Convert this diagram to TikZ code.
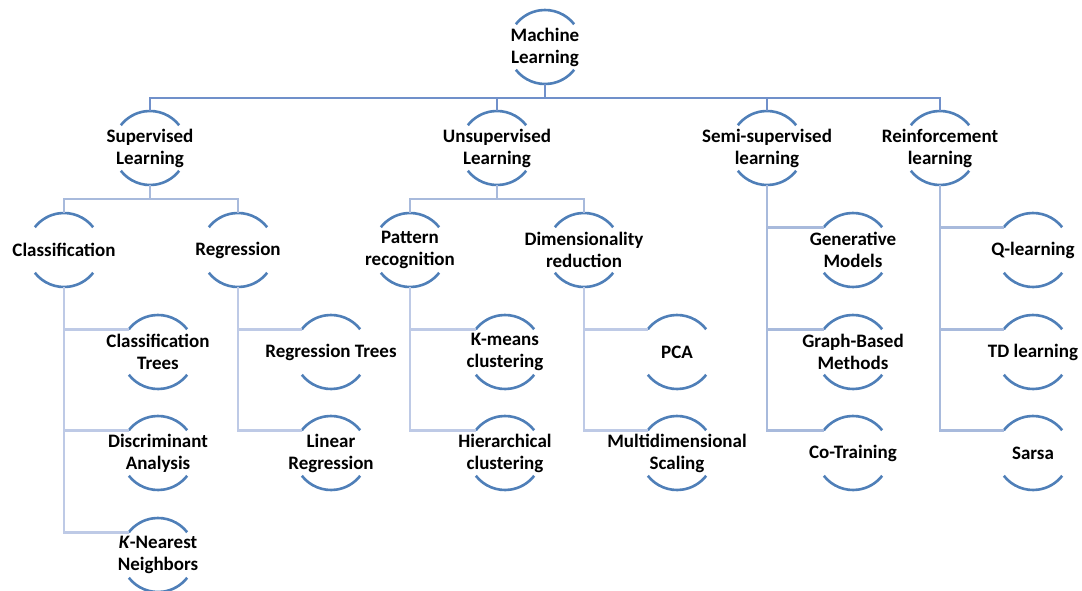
\documentclass[tikz,border=0pt]{standalone}
\usepackage{fontspec}
\setmainfont{Carlito}
\usetikzlibrary{calc}
\definecolor{arcc}{RGB}{79,127,184}
\definecolor{conA}{RGB}{112,144,202}
\definecolor{conB}{RGB}{168,186,220}
\definecolor{conC}{RGB}{190,202,230}
\tikzset{
  ring/.style={circle, minimum size=74pt, inner sep=0pt, outer sep=0pt},
  lbl/.style={align=center, font=\fontsize{19}{22}\selectfont\bfseries, text=black, inner sep=0pt},
  arcline/.style={draw=arcc, line width=2.6pt},
  cA/.style={draw=conA, line width=2.6pt},
  cB/.style={draw=conB, line width=2.6pt},
  cC/.style={draw=conC, line width=2.6pt},
}
\newcommand\mlnode[3]{%
  \node[ring] (#1) at (#2) {};
  \node[lbl] (#1-t) at (#1.center) {#3};
  \draw[arcline] (#1.38) arc[start angle=38, end angle=142, radius=37pt];
  \draw[arcline] (#1.218) arc[start angle=218, end angle=322, radius=37pt];
}
\begin{document}
\begin{tikzpicture}[x=1pt,y=1pt]
\useasboundingbox (0,0) rectangle (1082,-591);
% coordinates for bars
\coordinate (bar1) at (0,-98);
\coordinate (bar2) at (0,-199);
% nodes
\mlnode{ml}{545,-47}{Machine\\Learning}
\mlnode{sup}{150,-148}{Supervised\\Learning}
\mlnode{uns}{497,-148}{Unsupervised\\Learning}
\mlnode{semi}{767,-148}{Semi-supervised\\learning}
\mlnode{rl}{940,-148}{Reinforcement\\learning}
\mlnode{cls}{64,-250}{Classification}
\mlnode{reg}{238,-250}{Regression}
\mlnode{pat}{410,-250}{Pattern\\recognition}
\mlnode{dim}{584,-250}{Dimensionality\\reduction}
\mlnode{ctree}{158,-352}{Classification\\Trees}
\mlnode{disc}{158,-453}{Discriminant\\Analysis}
\mlnode{knn}{158,-555}{\textit{K}-Nearest\\Neighbors}
\mlnode{rtree}{331,-352}{Regression Trees}
\mlnode{lin}{331,-453}{Linear\\Regression}
\mlnode{km}{505,-352}{K-means\\clustering}
\mlnode{hier}{505,-453}{Hierarchical\\clustering}
\mlnode{pca}{677,-352}{PCA}
\mlnode{mds}{677,-453}{Multidimensional\\Scaling}
\mlnode{gen}{853,-250}{Generative\\Models}
\mlnode{graph}{853,-352}{Graph-Based\\Methods}
\mlnode{cot}{853,-453}{Co-Training}
\mlnode{q}{1033,-250}{Q-learning}
\mlnode{td}{1033,-352}{TD learning}
\mlnode{sarsa}{1033,-453}{Sarsa}
% level 1 connectors
\draw[cA] (ml.south) -- (ml.south |- bar1);
\draw[cA] (sup.north) -- (sup.north |- bar1) -- (rl.north |- bar1) -- (rl.north);
\draw[cA] (uns.north) -- (uns.north |- bar1);
\draw[cA] (semi.north) -- (semi.north |- bar1);
% level 2 connectors
\draw[cB] (sup.south) -- (sup.south |- bar2);
\draw[cB] (cls.north) -- (cls.north |- bar2) -- (reg.north |- bar2) -- (reg.north);
\draw[cB] (uns.south) -- (uns.south |- bar2);
\draw[cB] (pat.north) -- (pat.north |- bar2) -- (dim.north |- bar2) -- (dim.north);
\draw[cB] (semi.south) |- (gen.142);
\draw[cB] (semi.south) |- (graph.142);
\draw[cB] (semi.south) |- (cot.142);
\draw[cB] (rl.south) |- (q.142);
\draw[cB] (rl.south) |- (td.142);
\draw[cB] (rl.south) |- (sarsa.142);
% level 3 connectors
\draw[cC] (cls.south) |- (ctree.142);
\draw[cC] (cls.south) |- (disc.142);
\draw[cC] (cls.south) |- (knn.142);
\draw[cC] (reg.south) |- (rtree.142);
\draw[cC] (reg.south) |- (lin.142);
\draw[cC] (pat.south) |- (km.142);
\draw[cC] (pat.south) |- (hier.142);
\draw[cC] (dim.south) |- (pca.142);
\draw[cC] (dim.south) |- (mds.142);
\end{tikzpicture}
\end{document}
